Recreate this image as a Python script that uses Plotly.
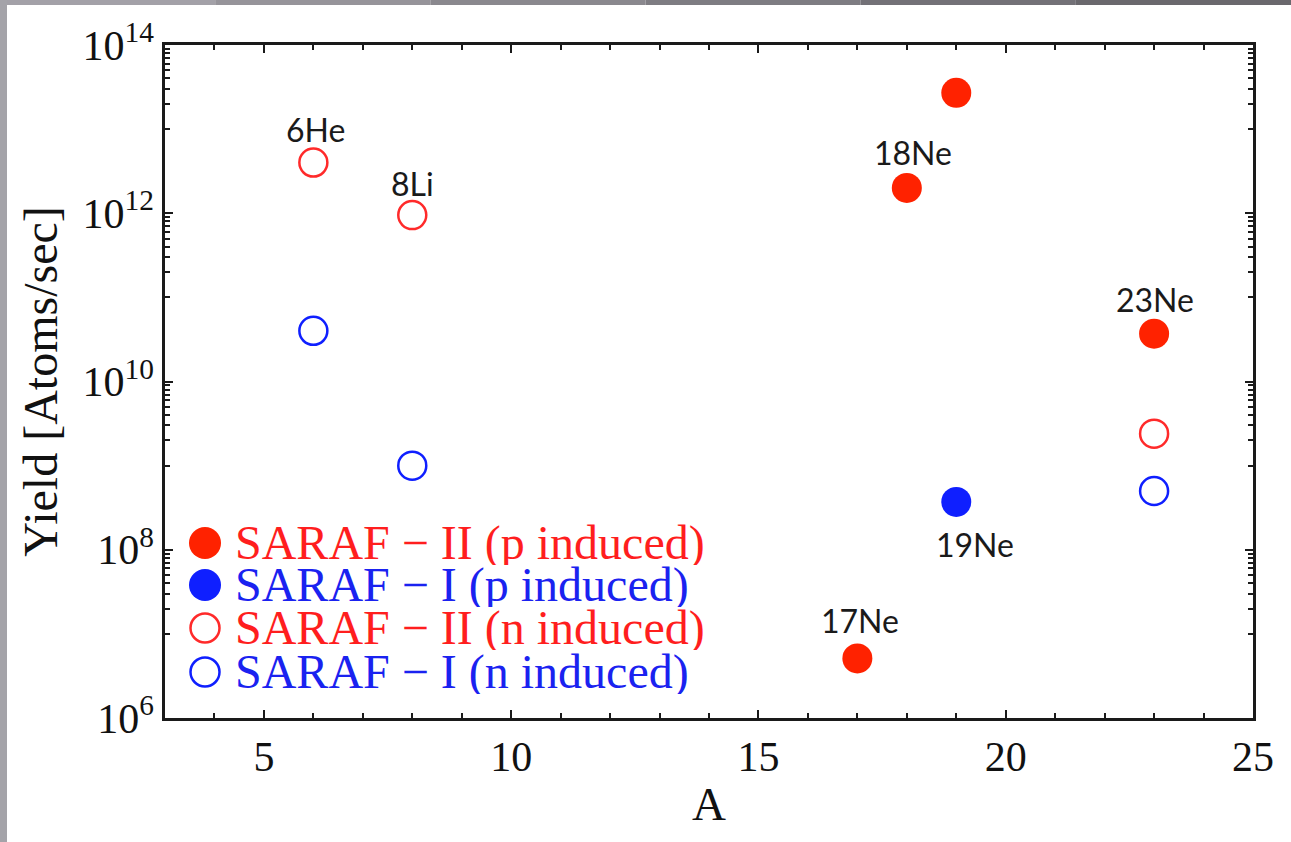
import math
import plotly.graph_objects as go

# ---------------- data ----------------
series_names = ["SARAF − II (p induced)", "SARAF − I (p induced)",
                "SARAF − II (n induced)", "SARAF − I (n induced)"]

saraf2_p_A = [17, 18, 19, 23]
saraf2_p_Y = [5.1e6, 2.0e12, 2.7e13, 3.7e10]

saraf1_p_A = [19]
saraf1_p_Y = [3.7e8]

saraf2_n_A = [6, 8, 23]
saraf2_n_Y = [4.0e12, 9.5e11, 2.4e9]

saraf1_n_A = [6, 8, 23]
saraf1_n_Y = [4.0e10, 1.0e9, 5.0e8]

label_text = ["6He", "8Li", "17Ne", "18Ne", "19Ne", "23Ne"]
label_A = [6, 8, 17, 18, 19, 23]
label_Y = [4.0e12, 9.5e11, 5.1e6, 2.0e12, 3.7e8, 3.7e10]

x_tickvals = [5, 10, 15, 20, 25]
y_exponents = [6, 8, 10, 12, 14]

# ---------------- style ----------------
RED_FILL = "#ff2200"
RED_LINE = "#ff2a2a"
BLUE = "#0f1fff"
RED_TXT = "#ff1e1e"
BLUE_TXT = "#1a22f0"
AXIS = "#1a1a1a"
SERIF = "Liberation Serif"
SANS = "Lato"

W, H = 1291, 842
ML, MR, MT, MB = 165, 38, 45, 124
PW, PH = W - ML - MR, H - MT - MB


def px_x(x):
    return (x - ML) / PW


def px_y(y):
    return (H - MB - y) / PH


fig = go.Figure()

styles = [
    dict(symbol="circle", size=30, color=RED_FILL, line=dict(width=0)),
    dict(symbol="circle", size=30, color=BLUE, line=dict(width=0)),
    dict(symbol="circle-open", size=28, color=RED_LINE, line=dict(width=2.5, color=RED_LINE)),
    dict(symbol="circle-open", size=28, color=BLUE, line=dict(width=2.5, color=BLUE)),
]
data_sets = [(saraf2_p_A, saraf2_p_Y), (saraf1_p_A, saraf1_p_Y),
             (saraf2_n_A, saraf2_n_Y), (saraf1_n_A, saraf1_n_Y)]

for name, (xs, ys), st in zip(series_names, data_sets, styles):
    fig.add_trace(go.Scatter(x=xs, y=ys, mode="markers", name=name,
                             marker=st, showlegend=False))

# point labels
label_shift = {"6He": (2, 33), "8Li": (0, 32), "17Ne": (3, 38),
               "18Ne": (6, 35), "19Ne": (19, -43), "23Ne": (1, 34)}
for t, a, yv in zip(label_text, label_A, label_Y):
    dx, dy = label_shift[t]
    fig.add_annotation(x=a, y=math.log10(yv), xref="x", yref="y",
                       text=t, showarrow=False, xshift=dx, yshift=dy,
                       font=dict(family=SANS, size=32, color="#1a1a1a"))

# manual legend (large markers, coloured text)
legend_rows_y = [543, 585, 628, 672]
legend_colors = [RED_TXT, BLUE_TXT, RED_TXT, BLUE_TXT]
for name, st, col, yy in zip(series_names, styles, legend_colors, legend_rows_y):
    filled = st["symbol"] == "circle"
    r = 16 if filled else 14.5
    fig.add_shape(type="circle", xref="paper", yref="paper",
                  xsizemode="pixel", ysizemode="pixel",
                  xanchor=px_x(205), yanchor=px_y(yy),
                  x0=-r, x1=r, y0=-r, y1=r,
                  fillcolor=st["color"] if filled else "rgba(0,0,0,0)",
                  line=dict(width=0 if filled else 2.5, color=st["color"]))
    fig.add_annotation(x=px_x(234), y=px_y(yy), xref="paper", yref="paper",
                       xanchor="left", yanchor="middle", showarrow=False,
                       height=44, valign="middle", borderpad=0,
                       text=name, font=dict(family=SERIF, size=48, color=col))

# slide frame (grey bands at top and left)
top_cols = ["#a3a1a8", "#96949a", "#8a888e", "#7e7c82", "#737177", "#6a686d"]
seg = W / len(top_cols)
for k, c in enumerate(top_cols):
    fig.add_shape(type="rect", xref="paper", yref="paper",
                  x0=px_x(k * seg), x1=px_x((k + 1) * seg),
                  y0=px_y(5), y1=px_y(0), fillcolor=c, line=dict(width=0),
                  layer="above")
fig.add_shape(type="rect", xref="paper", yref="paper",
              x0=px_x(0), x1=px_x(7), y0=px_y(H), y1=px_y(0),
              fillcolor="#a4a3a9", line=dict(width=0), layer="above")

axis_common = dict(showline=True, linecolor=AXIS, linewidth=2.5, mirror="ticks",
                   ticks="inside", ticklen=8, tickwidth=2, tickcolor=AXIS,
                   showgrid=False, zeroline=False,
                   tickfont=dict(family=SERIF, size=42, color="#111111"))

minor_y = [k * 10 ** e for e in (7, 9, 11, 13) for k in range(1, 10)]

fig.update_xaxes(range=[3, 25], tickmode="array", tickvals=x_tickvals,
                 minor=dict(dtick=1, tick0=0, ticks="inside", ticklen=5,
                            tickwidth=2, tickcolor=AXIS),
                 title=dict(text="A", font=dict(family=SERIF, size=47, color="#111111"),
                            standoff=8),
                 **axis_common)
fig.update_yaxes(type="log", range=[6, 14], tickmode="array",
                 tickvals=[10 ** e for e in y_exponents],
                 ticktext=[f"10<sup>{e}</sup>" for e in y_exponents],
                 minor=dict(tickmode="array", tickvals=minor_y, ticks="inside",
                            ticklen=5, tickwidth=1.5, tickcolor=AXIS),
                 title=dict(text="Yield [Atoms/sec]",
                            font=dict(family=SERIF, size=48, color="#111111"),
                            standoff=10),
                 **axis_common)

fig.update_layout(width=W, height=H, autosize=False,
                  margin=dict(l=ML, r=MR, t=MT, b=MB),
                  paper_bgcolor="white", plot_bgcolor="white",
                  showlegend=False)

fig.write_html("out.html")
